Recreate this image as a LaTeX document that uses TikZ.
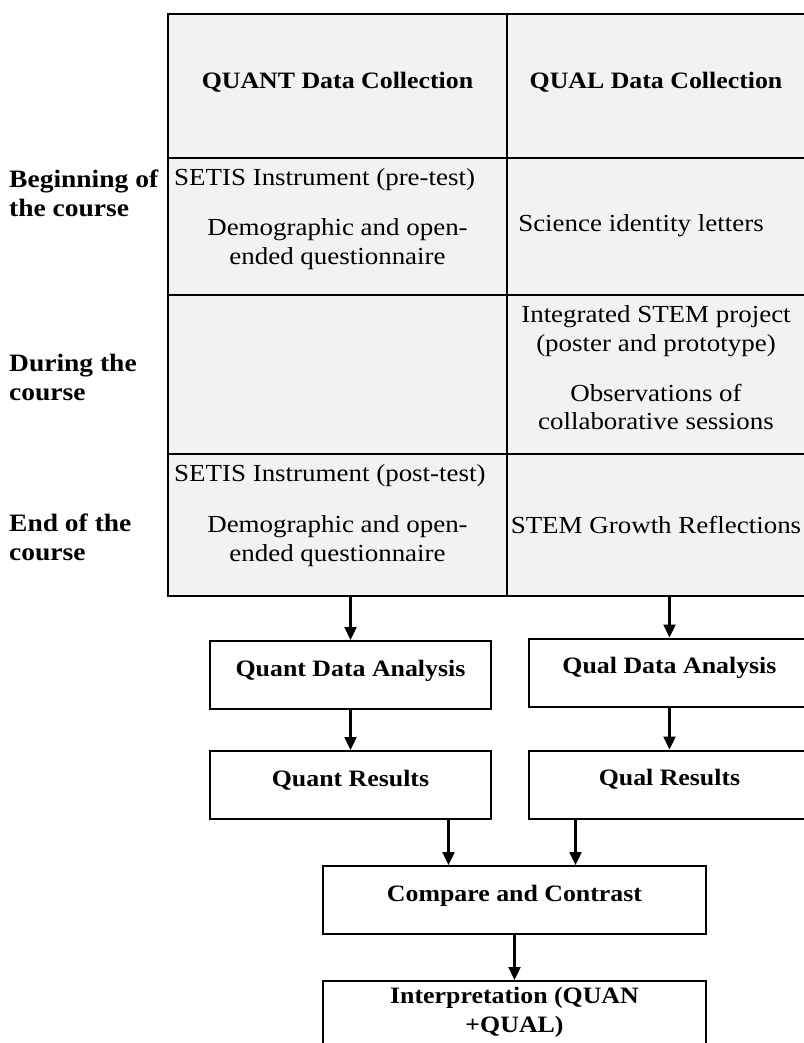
\documentclass[tikz,border=0pt]{standalone}
\usepackage{fontspec}
\setmainfont{Liberation Serif}[FakeStretch=1.1]
\usetikzlibrary{arrows.meta}

\tikzset{
  cell/.style={draw=black, line width=2pt, fill=black!5, inner sep=0pt},
  txt/.style={align=center, inner sep=0pt, font=\fontsize{24.5}{28.5}\selectfont},
  hd/.style={align=center, inner sep=0pt, font=\bfseries\fontsize{23.5}{28.5}\selectfont},
  rowlbl/.style={align=left, anchor=west, inner sep=0pt,
    font=\bfseries\fontsize{25}{29}\selectfont},
  procbox/.style={draw=black, line width=2pt, fill=white, minimum width=281pt,
    minimum height=68pt, font=\bfseries\fontsize{23.5}{28.5}\selectfont,
    text height=16pt, text depth=14pt},
  flow/.style={line width=2.3pt, -{Triangle[width=12pt,length=13pt]}}
}

\begin{document}
\begin{tikzpicture}[x=1pt,y=-1pt]
    \useasboundingbox (0,0) rectangle (803,1043);
    % table of data collection
    \node[cell, minimum width=339pt, minimum height=144pt] (hqn) at (337.5,86) {};
    \node[cell, minimum width=310pt, minimum height=144pt] (hql) at (662,86) {};
    \node[cell, minimum width=339pt, minimum height=137pt] (r1qn) at (337.5,226.5) {};
    \node[cell, minimum width=310pt, minimum height=137pt] (r1ql) at (662,226.5) {};
    \node[cell, minimum width=339pt, minimum height=159pt] (r2qn) at (337.5,374.5) {};
    \node[cell, minimum width=310pt, minimum height=159pt] (r2ql) at (662,374.5) {};
    \node[cell, minimum width=339pt, minimum height=142pt] (r3qn) at (337.5,525) {};
    \node[cell, minimum width=310pt, minimum height=142pt] (r3ql) at (662,525) {};

    \node[hd] (tqn) at (337.5,82) {QUANT Data Collection};
    \node[hd] (tql) at (656,82) {QUAL Data Collection};

    \node[rowlbl] (lbeg) at (9,193) {Beginning of\\the course};
    \node[rowlbl] (ldur) at (9,377) {During the\\course};
    \node[rowlbl] (lend) at (9,537) {End of the\\course};

    \node[txt, anchor=west] (pre) at (174,180) {SETIS Instrument (pre-test)};
    \node[txt] (demo1) at (337.5,244) {Demographic and open-\\ended questionnaire};
    \node[txt] (letters) at (641,226) {Science identity letters};
    \node[txt] (proj) at (656,331) {Integrated STEM project\\(poster and prototype)};
    \node[txt] (obs) at (656,407) {Observations of\\collaborative sessions};
    \node[txt, anchor=west] (post) at (174,476) {SETIS Instrument (post-test)};
    \node[txt] (demo2) at (337.5,541) {Demographic and open-\\ended questionnaire};
    \node[txt] (growth) at (656,525) {STEM Growth Reflections};

    % analysis boxes
    \node[procbox] (qnA) at (350.5,675) {Quant Data Analysis};
    \node[procbox] (qlA) at (669.5,672.5) {Qual Data Analysis};
    \node[procbox] (qnR) at (350.5,785) {Quant Results};
    \node[procbox] (qlR) at (669.5,784.5) {Qual Results};
    \node[procbox, minimum width=383pt] (cmp) at (514.5,900) {Compare and Contrast};
    \node[procbox, minimum width=383pt, minimum height=63pt, align=center,
      text height=, text depth=] (intp) at (514.5,1012.5) {Interpretation (QUAN\\+QUAL)};

    \coordinate (xa) at (448.5,0);
    \coordinate (xb) at (575.5,0);

    \draw[flow] (qnA.north |- r3qn.south) -- (qnA.north);
    \draw[flow] (qlA.north |- r3ql.south) -- (qlA.north);
    \draw[flow] (qnA) -- (qnR);
    \draw[flow] (qlA) -- (qlR);
    \draw[flow] (qnR.south -| xa) -- (cmp.north -| xa);
    \draw[flow] (qlR.south -| xb) -- (cmp.north -| xb);
    \draw[flow] (cmp) -- (intp);
\end{tikzpicture}
\end{document}
